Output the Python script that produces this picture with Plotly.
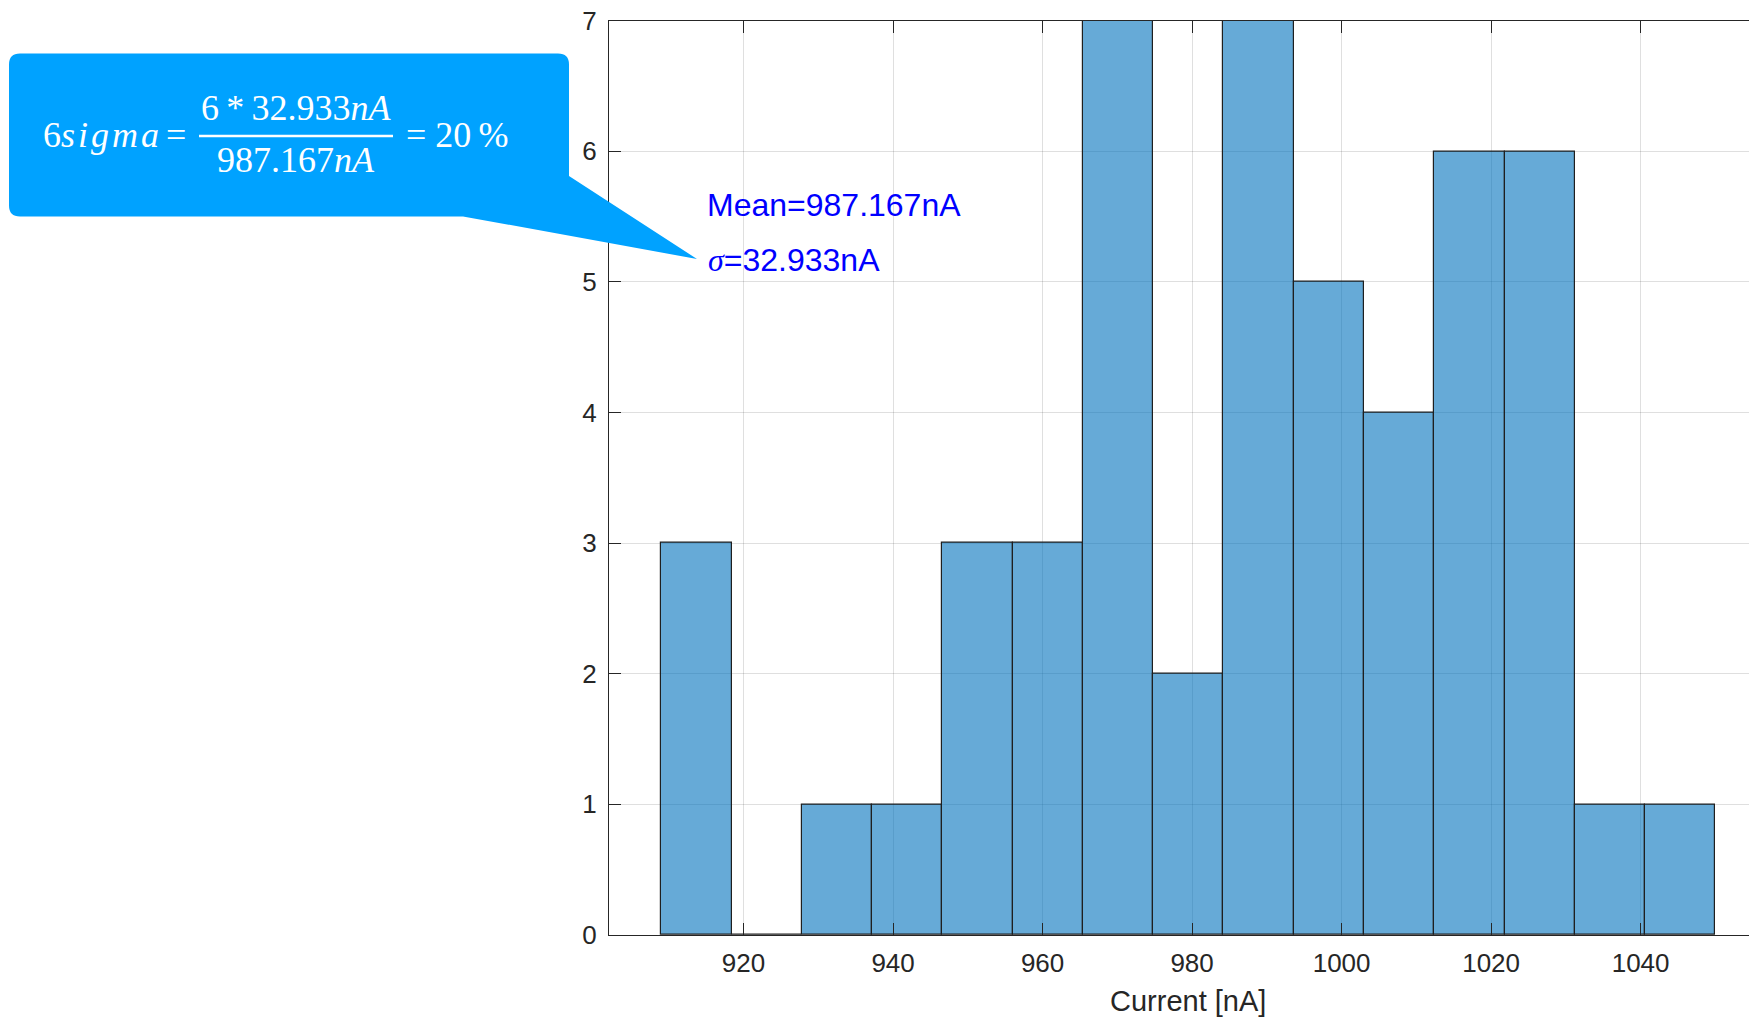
import plotly.graph_objects as go

# ---------------- data ----------------
bin_edges = [909.0, 918.4, 927.8, 937.2, 946.6, 956.0, 965.4, 974.8, 984.2,
             993.6, 1003.0, 1012.4, 1021.8, 1031.2, 1040.6, 1050.0]
counts = [3, 0, 1, 1, 3, 3, 7, 2, 7, 5, 4, 6, 6, 1, 1]
x_ticks = [920, 940, 960, 980, 1000, 1020, 1040]
y_ticks = [0, 1, 2, 3, 4, 5, 6, 7]
mean_text = "Mean=987.167nA"
sigma_value = "=32.933nA"
x_label = "Current [nA]"

centers = [(a + b) / 2 for a, b in zip(bin_edges[:-1], bin_edges[1:])]
widths = [b - a for a, b in zip(bin_edges[:-1], bin_edges[1:])]

W, H = 1749, 1019
AX = "#262626"


def px(x):
    return x / W


def py(y):
    return 1 - y / H


fig = go.Figure()
fig.add_trace(go.Bar(
    x=centers, y=counts, width=widths,
    marker=dict(color="rgba(0,114,189,0.6)",
                line=dict(color="#1f1f1f", width=1.2)),
    showlegend=False, hoverinfo="x+y",
))

# plot area pixel bounds
L, R, T, B = 609, W, 20.7, 934.9

fig.update_layout(
    template="none",
    width=W, height=H, autosize=False,
    margin=dict(l=0, r=0, t=0, b=0, pad=0, autoexpand=False),
    paper_bgcolor="white", plot_bgcolor="white",
    font=dict(family="Liberation Sans, Arial, Helvetica, sans-serif", color=AX),
    bargap=0,
    xaxis=dict(
        domain=[px(L), 1], range=[902, 1054.5], automargin=False,
        tickvals=x_ticks, ticks="inside", ticklen=12, tickwidth=1.3, tickcolor=AX,
        showline=True, linecolor=AX, linewidth=1.3, mirror="ticks",
        showgrid=True, gridcolor="rgba(38,38,38,0.15)", gridwidth=1.3,
        zeroline=False, tickfont=dict(size=26, color=AX),
        ticklabelstandoff=5,
    ),
    yaxis=dict(
        domain=[py(B), py(T)], range=[0, 7], automargin=False,
        tickvals=y_ticks, ticks="inside", ticklen=12, tickwidth=1.3, tickcolor=AX,
        showline=True, linecolor=AX, linewidth=1.3, mirror=False,
        showgrid=True, gridcolor="rgba(38,38,38,0.15)", gridwidth=1.3,
        zeroline=False, tickfont=dict(size=26, color=AX),
        ticklabelstandoff=6,
    ),
)

# x-axis label (the full axes box extends past the right edge of the figure,
# so the label is centred on that wider box)
fig.add_annotation(xref="paper", yref="paper", x=px(1188), y=py(1000.5),
                   xanchor="center", yanchor="middle", showarrow=False,
                   text=x_label, font=dict(size=29, color=AX))

# ---------------- callout ----------------
bl, br, bt, bb, r = 9, 569, 53.5, 216.4, 11
tip = (697, 259)
right_join = 176
bottom_join = 463


def P(x, y):
    return f"{px(x):.6f},{py(y):.6f}"


path = (
    f"M {P(bl + r, bt)} L {P(br - r, bt)} Q {P(br, bt)} {P(br, bt + r)} "
    f"L {P(br, right_join)} L {P(*tip)} L {P(bottom_join, bb)} "
    f"L {P(bl + r, bb)} Q {P(bl, bb)} {P(bl, bb - r)} "
    f"L {P(bl, bt + r)} Q {P(bl, bt)} {P(bl + r, bt)} Z"
)
fig.add_shape(type="path", path=path, xref="paper", yref="paper",
              fillcolor="#00A2FF", line=dict(width=0), layer="above")

serif = "Liberation Serif, Times New Roman, serif"
wf = dict(family=serif, size=36, color="white")

fig.add_annotation(xref="paper", yref="paper", x=px(41), y=py(135),
                   xanchor="left", yanchor="middle", showarrow=False,
                   text="6<i>s\u200ai\u200ag\u200am\u200aa</i>", font=wf)
fig.add_annotation(xref="paper", yref="paper", x=px(176), y=py(135),
                   xanchor="center", yanchor="middle", showarrow=False,
                   text="=", font=wf)
fig.add_annotation(xref="paper", yref="paper", x=px(296), y=py(108),
                   xanchor="center", yanchor="middle", showarrow=False,
                   text="6\u2009*\u200932.933<i>nA</i>", font=wf)
fig.add_annotation(xref="paper", yref="paper", x=px(296), y=py(160),
                   xanchor="center", yanchor="middle", showarrow=False,
                   text="987.167<i>nA</i>", font=wf)
fig.add_annotation(xref="paper", yref="paper", x=px(404), y=py(135),
                   xanchor="left", yanchor="middle", showarrow=False,
                   text="= 20\u2009%", font=wf)
fig.add_shape(type="line", xref="paper", yref="paper",
              x0=px(199), x1=px(393), y0=py(136), y1=py(136),
              line=dict(color="white", width=2.5), layer="above")

# ---------------- mean / sigma text ----------------
bf = dict(family="Liberation Sans, Arial, Helvetica, sans-serif", size=32, color="#0000FF")
fig.add_annotation(xref="paper", yref="paper", x=px(705), y=py(205),
                   xanchor="left", yanchor="middle", showarrow=False,
                   text=mean_text, font=bf)
fig.add_annotation(xref="paper", yref="paper", x=px(706), y=py(260),
                   xanchor="left", yanchor="middle", showarrow=False,
                   text="<span style='font-family:Liberation Serif'><i>σ</i></span>" + sigma_value,
                   font=bf)

fig.write_html("out.html", config={"displayModeBar": False},
               post_script="document.body.style.margin='0';document.body.style.overflow='hidden';")
